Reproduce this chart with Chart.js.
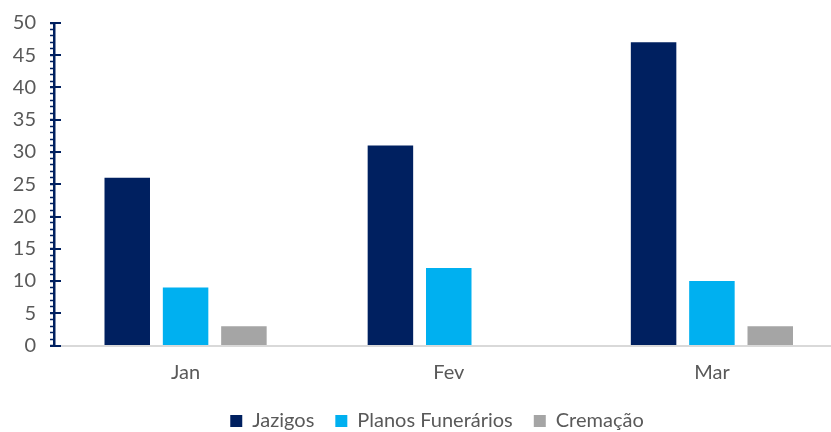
<!DOCTYPE html>
<html>
<head>
<meta charset="utf-8">
<script src="https://cdn.jsdelivr.net/npm/chart.js@4/dist/chart.umd.min.js"></script>
<style>
  html, body { margin: 0; padding: 0; background: #fff; }
  /* the original plot runs a little past the right edge of the picture */
  #wrap { width: 831px; height: 432px; overflow: hidden; position: relative; }
  #wrap canvas { position: absolute; left: 0; top: 0; }
</style>
</head>
<body>
<div id="wrap">
  <canvas id="vendasChart" width="874" height="441"></canvas>
</div>
<script>
const months = ["Jan", "Fev", "Mar"];
const jazigos = [26, 31, 47];
const planosFunerarios = [9, 12, 10];
const cremacao = [3, 0, 3];

const navy = "#002060";
const textGray = "#595959";
const fontFamily = "Lato, 'Open Sans', sans-serif";

const canvas = document.getElementById("vendasChart");
const ctx = canvas.getContext("2d");

/* major ticks cross the axis, minor ticks only outside */
const majorTicks = {
    id: "majorTicks",
    afterDraw(chart) {
        const y = chart.scales.y;
        const c = chart.ctx;
        const x0 = chart.chartArea.left;
        c.save();
        c.strokeStyle = navy;
        c.lineWidth = 2;
        y.ticks.forEach(t => {
            if (t.value % 5 !== 0) return;
            const py = Math.round(y.getPixelForValue(t.value));
            c.beginPath();
            c.moveTo(x0 - 4, py);
            c.lineTo(x0 + 7, py);
            c.stroke();
        });
        c.restore();
    }
};

new Chart(ctx, {
    type: "bar",
    data: {
        labels: months,
        datasets: [
            { label: "Jazigos", data: jazigos, backgroundColor: navy },
            { label: "Planos Funerários", data: planosFunerarios, backgroundColor: "#00B0F0" },
            { label: "Cremação", data: cremacao, backgroundColor: "#A5A5A5" }
        ]
    },
    options: {
        responsive: false,
        animation: false,
        layout: {
            padding: { left: 0, right: 0, top: 23, bottom: 0 }
        },
        datasets: {
            bar: {
                categoryPercentage: 0.665,
                barPercentage: 0.78
            }
        },
        plugins: {
            tooltip: { enabled: false },
            legend: {
                position: "bottom",
                labels: {
                    boxWidth: 12,
                    boxHeight: 12,
                    padding: 21,
                    color: textGray,
                    font: { family: fontFamily, size: 20 }
                }
            }
        },
        scales: {
            x: {
                afterFit: s => { s.height = 44.5; },
                grid: { display: false, drawTicks: false },
                border: { display: true, color: "#D9D9D9", width: 2 },
                ticks: {
                    color: textGray,
                    padding: 15,
                    font: { family: fontFamily, size: 20 }
                }
            },
            y: {
                min: 0,
                max: 50,
                afterFit: s => {
                    s.width = 54;
                    s.paddingTop = 0;
                    s.paddingBottom = 0;
                },
                grid: {
                    drawOnChartArea: false,
                    drawTicks: true,
                    tickLength: 4,
                    tickColor: navy,
                    tickWidth: 1.5
                },
                border: { display: true, color: navy, width: 2.5 },
                ticks: {
                    stepSize: 1,
                    autoSkip: false,
                    maxTicksLimit: 100,
                    padding: 14,
                    color: textGray,
                    font: { family: fontFamily, size: 20 },
                    callback: v => (v % 5 === 0 ? v : "")
                }
            },
            /* empty right-hand strip so the plot stops where the original did */
            spacer: {
                type: "linear",
                position: "right",
                afterFit: s => { s.width = 30.5; },
                grid: { display: false, drawTicks: false },
                border: { display: false },
                ticks: { display: false }
            }
        }
    },
    plugins: [majorTicks]
});
</script>
</body>
</html>
